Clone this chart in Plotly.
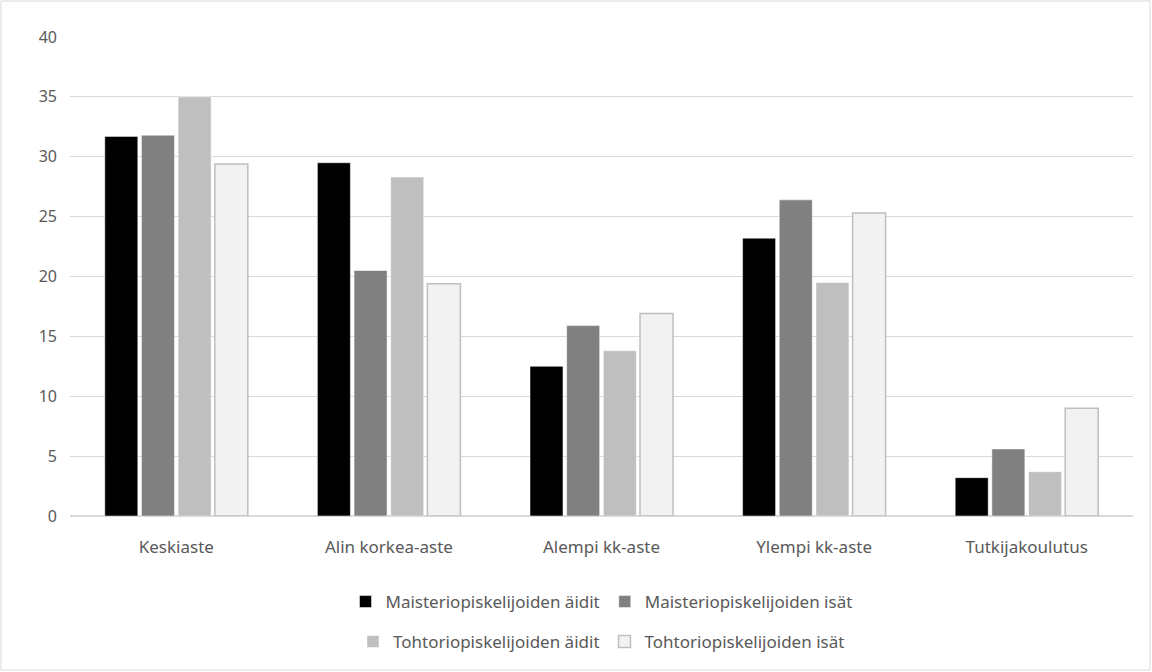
import plotly.graph_objects as go

categories = ["Keskiaste", "Alin korkea-aste", "Alempi kk-aste", "Ylempi kk-aste", "Tutkijakoulutus"]
series_names = ["Maisteriopiskelijoiden äidit", "Maisteriopiskelijoiden isät",
                "Tohtoriopiskelijoiden äidit", "Tohtoriopiskelijoiden isät"]
maisteri_aidit = [31.7, 29.5, 12.5, 23.2, 3.2]
maisteri_isat = [31.8, 20.5, 15.9, 26.4, 5.6]
tohtori_aidit = [35.0, 28.3, 13.8, 19.5, 3.7]
tohtori_isat = [29.4, 19.4, 16.9, 25.3, 9.0]

values = [maisteri_aidit, maisteri_isat, tohtori_aidit, tohtori_isat]
fills = ["#000000", "#808080", "#bfbfbf", "#f2f2f2"]
lines = ["#ffffff", "#ffffff", "#ffffff", "#bfbfbf"]
line_w = [0.5, 0.5, 0.5, 1.5]
legends = ["legend", "legend", "legend2", "legend2"]

FONT = "Noto Sans"
TXT = "#595959"

fig = go.Figure()
for name, v, fc, lc, lw, lg in zip(series_names, values, fills, lines, line_w, legends):
    fig.add_trace(go.Bar(x=categories, y=v, name=name, legend=lg,
                         marker=dict(color=fc, line=dict(color=lc, width=lw))))

W, H = 1152, 672
L, R, T, B = 70, 19, 37, 156
pw, ph = W - L - R, H - T - B

fig.update_layout(
    width=W, height=H,
    margin=dict(l=L, r=R, t=T, b=B),
    paper_bgcolor="white", plot_bgcolor="white",
    font=dict(family=FONT, size=17, color=TXT),
    barmode="group", bargap=0.31, bargroupgap=0.1,
    showlegend=True,
    legend=dict(orientation="h", x=0.5, xanchor="center", y=-(602 - 516) / ph, yanchor="middle",
                font=dict(family=FONT, size=17, color=TXT), traceorder="normal",
                itemwidth=30, bgcolor="rgba(0,0,0,0)"),
    legend2=dict(orientation="h", x=0.5, xanchor="center", y=-(642 - 516) / ph, yanchor="middle",
                 font=dict(family=FONT, size=17, color=TXT), traceorder="normal",
                 itemwidth=30, bgcolor="rgba(0,0,0,0)"),
    xaxis=dict(showgrid=False, showline=True, linecolor="#d9d9d9", linewidth=1,
               ticks="", ticklabelstandoff=16, tickfont=dict(family=FONT, size=17, color=TXT),
               fixedrange=True),
    yaxis=dict(range=[0, 40], dtick=5, showgrid=True, gridcolor="#d9d9d9", gridwidth=1,
               zeroline=True, zerolinecolor="#d9d9d9", showline=False, ticks="",
               ticklabelstandoff=12, tickfont=dict(family=FONT, size=16, color=TXT),
               fixedrange=True),
    shapes=[dict(type="rect", xref="paper", yref="paper",
                 x0=(1 - L) / pw, x1=(W - 2 - L) / pw,
                 y0=-(H - 2 - (T + ph)) / ph, y1=(T + ph - 1) / ph,
                 line=dict(color="#d9d9d9", width=1), fillcolor="rgba(0,0,0,0)", layer="below")],
)

fig.write_html("out.html", config={"displayModeBar": False},
               post_script="document.body.style.margin='0';document.body.style.overflow='hidden';")
